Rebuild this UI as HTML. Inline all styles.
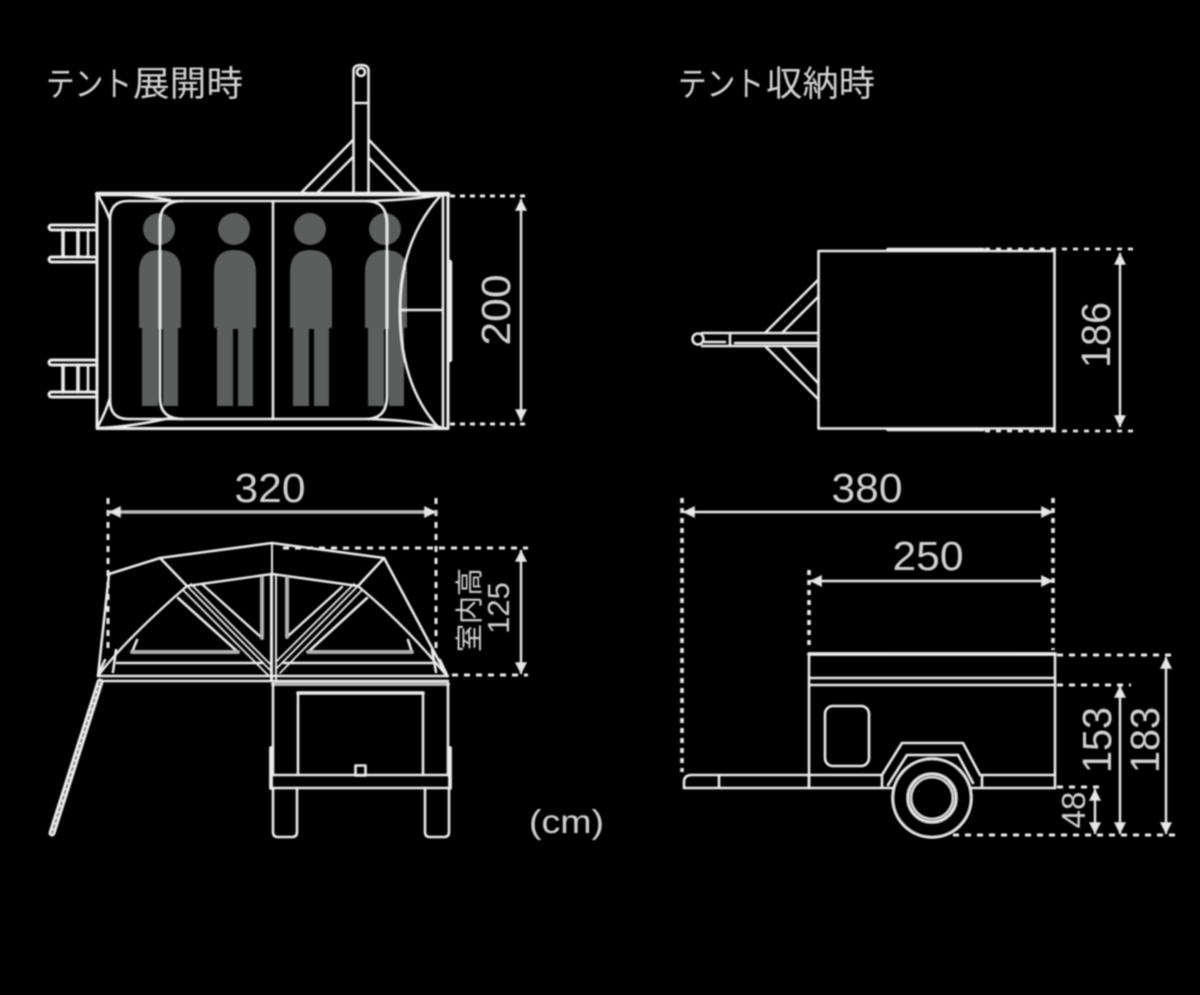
<!DOCTYPE html>
<html lang="ja"><head><meta charset="utf-8"><title>テント寸法図</title>
<style>
html,body{margin:0;padding:0;background:#000;width:1200px;height:995px;overflow:hidden}
svg{display:block}
text{font-family:"Liberation Sans","Noto Sans CJK JP",sans-serif;fill:#d2d2d2}
.k{font-size:34px;fill:#d4d4d4}
.j{font-size:35px;fill:#d4d4d4}
.n{font-size:41px;text-anchor:middle}
</style></head><body>
<svg width="1200" height="995" viewBox="0 0 1200 995" xmlns="http://www.w3.org/2000/svg">
<defs>
<filter id="b" x="-5%" y="-5%" width="110%" height="110%"><feGaussianBlur stdDeviation="0.7"/></filter>
<marker id="a" viewBox="0 0 10 10" refX="9" refY="5" markerWidth="13" markerHeight="12" markerUnits="userSpaceOnUse" orient="auto-start-reverse"><path d="M0 0L10 5L0 10Z" fill="#e6e6e6"/></marker>
</defs>
<rect width="1200" height="995" fill="#000"/>
<g filter="url(#b)">
<!-- people -->
<g fill="#5b5d5d">
<g id="p"><circle cx="159" cy="229" r="16"/><path d="M139 328V272Q139 250 159 250Q181 250 181 272V328H178V406H163V329H158V406H142V328Z"/></g>
<use href="#p" x="75"/><use href="#p" x="151"/><use href="#p" x="226"/>
</g>
<g fill="none" stroke="#ececec" stroke-width="2.6" stroke-linejoin="round" stroke-linecap="round">
<!-- top left plan -->
<rect x="97" y="193.500" width="351" height="235" stroke-width="3"/>
<path d="M97 194H448" stroke-width="4.400"/>
<path d="M110 220Q110 201 128 201H366Q387 201 387 224V396Q387 419 366 419H128Q110 419 110 400Z"/>
<path d="M183 201Q160 201 160 222V398Q160 419 183 419M273 201V419"/>
<path d="M97 194Q105 206 110 220M97 428Q105 414 110 398M97 194Q130 193 170 200M97 428Q130 427 170 418"/>
<path d="M368 201Q410 200 440 195M368 419Q410 420 440 427"/>
<path d="M441 195Q400 240 400 310Q400 385 438 427M400 310H443M443 194V428"/>
<path d="M450 262V360" stroke-width="4.400"/>
<!-- hitch -->
<circle cx="361" cy="72" r="4"/>
<path d="M353.500 193V70Q354 65 361 65Q368 65 368.500 70V193M355 103H367"/>
<path d="M353 140L301 193M353 157L317 193M369 140L420 193M369 158L403 193"/>
<!-- ladders -->
<g id="l"><rect x="49" y="225" width="48" height="5" rx="2.500" stroke-width="3"/><rect x="49" y="257" width="48" height="5" rx="2.500" stroke-width="3"/><path d="M63 230V257M78 230V257" stroke-width="3.600"/><path d="M88 230V257"/></g>
<use href="#l" y="135"/>
<!-- dims top left -->
<g stroke-dasharray="5 5" stroke-linecap="butt" stroke-width="3"><path d="M450 196H527M450 424H527"/></g>
<path d="M521 200V420" marker-start="url(#a)" marker-end="url(#a)" stroke-width="2.400"/>
<!-- front elevation -->
<path d="M98 676L109 574L160 558L272 543L384 558L447 676"/>
<path d="M160 558L187 586M384 558L358 586"/>
<path d="M98 676Q125 640 187 586L272 574L358 586Q405 625 447 676" stroke-width="2.400"/>
<path d="M98 676H448M98 681H448" stroke-width="2.400"/>
<path d="M273 684H448" stroke-width="4" stroke="#b5b5b5"/>
<path d="M117 663H263M284 663H432"/>
<path d="M272 543V680M276 575V680M271 575V680" stroke-width="2"/>
<path d="M187 586L271 671M191 584L272 666M183 590L268 675" stroke-width="1.800"/>
<path d="M358 586L277 668M354 584L276 662M362 590L280 673" stroke-width="1.800"/>
<path d="M203 585L262 638V578" stroke-width="2.400"/><path d="M262 578V638" stroke-width="4" stroke="#b0b0b0"/>
<path d="M287 578V637L342 587" stroke-width="2.400"/><path d="M287 578V637" stroke-width="4" stroke="#b0b0b0"/>
<path d="M178 598L238 652H132L137 640"/><path d="M132 652H238" stroke-width="4" stroke="#b0b0b0"/>
<path d="M367 598L308 652H412L408 640"/><path d="M308 652H412" stroke-width="4" stroke="#b0b0b0"/>
<path d="M116 650L113 672M105 660L98 675M432 650L436 672M440 660L447 675"/>
<path d="M100 682L52 833" stroke-width="7"/><path d="M100 682L52 833" stroke="#555" stroke-width="1.500" stroke-dasharray="3 3"/>
<!-- trailer rear -->
<path d="M273 684V775M448 684V775"/>
<path d="M271 748V788M450 748V788" stroke-width="3.800"/>
<path d="M298 775V693H423V775"/><path d="M298 693H423" stroke-width="3.600"/>
<path d="M271 775H450M271 788H450"/>
<rect x="355.500" y="765.500" width="10" height="10"/>
<path d="M273 788V832Q273 837 278 837H292Q297 837 297 832V788M425 788V832Q425 837 430 837H444Q449 837 449 832V788"/>
<!-- dims front -->
<g stroke-dasharray="6 6" stroke-linecap="butt" stroke-width="3">
<path d="M108 498V650M436 498V650"/>
<path d="M283 548H528M452 675H528"/>
</g>
<path d="M110 512H435" marker-start="url(#a)" marker-end="url(#a)" stroke-width="3.400" stroke="#bdbdbd"/>
<path d="M521 551V673" marker-start="url(#a)" marker-end="url(#a)" stroke-width="2.400"/>
<!-- top right plan -->
<rect x="818.500" y="251" width="236" height="177.500"/>
<path d="M888 249.500H983M888 429.500H983" stroke-width="3.600"/>
<g stroke-dasharray="5 6" stroke-linecap="butt" stroke-width="2.800"><path d="M985 249H1135M985 431H1135"/></g>
<path d="M1120 254V426" marker-start="url(#a)" marker-end="url(#a)" stroke-width="2.400"/>
<circle cx="698" cy="339" r="5.500"/>
<path d="M702 333H817M702 346H817M705 342H725M730 333V346M735 343H817"/>
<path d="M765 333L818 280M782 333L818 297M765 346L818 399M783 346L818 383"/>
<!-- side elevation -->
<g stroke-dasharray="5 5" stroke-linecap="butt" stroke-width="3.600">
<path d="M682 498V772M1053 498V650M809 570V650"/>
</g>
<g stroke-dasharray="6 6" stroke-linecap="butt" stroke-width="3">
<path d="M1057 655H1175M1057 685H1131M1057 787H1105M953 835H1175"/>
</g>
<path d="M684 512H1052" marker-start="url(#a)" marker-end="url(#a)" stroke-width="2.400"/>
<path d="M811 581H1052" marker-start="url(#a)" marker-end="url(#a)" stroke-width="2.400"/>
<path d="M1095 790V833" marker-start="url(#a)" marker-end="url(#a)" stroke-width="2.400"/>
<path d="M1120 687V833" marker-start="url(#a)" marker-end="url(#a)" stroke-width="2.400"/>
<path d="M1166 658V833" marker-start="url(#a)" marker-end="url(#a)" stroke-width="2.400"/>
<path d="M809 654H1055" stroke-width="3.800"/>
<path d="M809 678H1055M809 685H1055" stroke-width="2.600"/>
<path d="M809 654V788M1055 654V788"/>
<rect x="825" y="706" width="44" height="60" rx="8"/>
<path d="M690 775H882L902 743H963L980 775H1055M684 788H893M971 788H1055M684 788V782Q684 775 692 775M719 775V788M809 775V788M882 775V786M982 775V786"/>
<path d="M888 785L907 755H958L973 783"/>
<circle cx="932" cy="798" r="39.500" fill="#000"/>
<circle cx="932" cy="798" r="24"/><circle cx="932" cy="798" r="21" stroke-width="1.800"/>
</g>
</g>
<g filter="url(#b)">
<text class="k" x="46" y="96" textLength="86" lengthAdjust="spacingAndGlyphs">テント</text>
<text class="j" x="133" y="96" textLength="110" lengthAdjust="spacingAndGlyphs">展開時</text>
<text class="k" x="678" y="96" textLength="86" lengthAdjust="spacingAndGlyphs">テント</text>
<text class="j" x="766" y="96" textLength="109" lengthAdjust="spacingAndGlyphs">収納時</text>
<text class="n" x="270" y="502" textLength="71" lengthAdjust="spacingAndGlyphs">320</text>
<text class="n" x="867" y="502" textLength="71" lengthAdjust="spacingAndGlyphs">380</text>
<text class="n" x="928" y="570" textLength="71" lengthAdjust="spacingAndGlyphs">250</text>
<text class="n" transform="translate(510,310) rotate(-90)" textLength="71" lengthAdjust="spacingAndGlyphs">200</text>
<text class="n" transform="translate(1110,335) rotate(-90)" textLength="66" lengthAdjust="spacingAndGlyphs">186</text>
<text class="n" transform="translate(1111,740) rotate(-90)" textLength="66" lengthAdjust="spacingAndGlyphs">153</text>
<text class="n" transform="translate(1159,740) rotate(-90)" textLength="66" lengthAdjust="spacingAndGlyphs">183</text>
<text transform="translate(1085,810) rotate(-90)" style="font-size:33px;text-anchor:middle">48</text>
<text transform="translate(509,608) rotate(-90)" style="font-size:31px;text-anchor:middle">125</text>
<text transform="translate(479,610) rotate(-90)" style="font-size:28px;text-anchor:middle">室内高</text>
<text x="529" y="833" style="font-size:33px" textLength="75" lengthAdjust="spacingAndGlyphs">(cm)</text>
</g>
</svg>
</body></html>
